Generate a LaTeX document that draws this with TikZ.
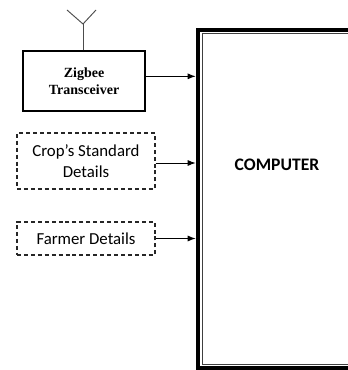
\documentclass[tikz,border=0pt]{standalone}
\usepackage{fontspec}
\setmainfont{Liberation Serif}
\newfontfamily\calibri{Carlito}
\usetikzlibrary{positioning,arrows.meta}

\begin{document}
\begin{tikzpicture}[x=0.75pt,y=-0.75pt,
						solidbox/.style={rectangle, draw=black, line width=1pt, minimum width=91.5pt, minimum height=45pt, align=center, font=\fontsize{10.5}{12.5}\selectfont\bfseries},
						dashbox/.style={rectangle, draw=black!85, line width=0.9pt, dash pattern=on 3pt off 2.2pt, minimum width=103.5pt, align=center, font=\calibri\fontsize{12.6}{15.5}\selectfont},
						mainbox/.style={rectangle, draw=black, line width=3pt, minimum width=121.9pt, minimum height=253.5pt},
						feed/.style={line width=0.75pt, -{Latex[length=6pt,width=4.5pt]}}
					]
					\useasboundingbox (0,0) rectangle (348,370);
					\clip (0,0) rectangle (348,370);
					\node[solidbox] (zigbee) at (84,81) {Zigbee\\Transceiver};
					\node[dashbox, minimum height=42pt] (crop) at (86,161) {Crop’s Standard\\Details};
					\node[dashbox, minimum height=24.75pt] (farmer) at (86,238.5) {Farmer Details};
					\node[mainbox] (computer) at (279,199) {};
					\node[font=\calibri\bfseries\fontsize{13.2}{15}\selectfont] (comptext) at (277,165) {COMPUTER};
					% inner line of the computer frame
					\draw[black!75, line width=0.8pt] ([shift={(4.9pt,-4.1pt)}]computer.north west) rectangle ([shift={(0pt,4.4pt)}]computer.south east);
					% antenna
					\coordinate (tip) at (83,24);
					\draw[black!70, line width=0.7pt] (zigbee.north -| tip) -- (tip);
					\draw[black!70, line width=0.7pt] (67,10) -- (tip) -- (96,10);
					\begin{scope}[feed]
					\draw ([yshift=3.5pt]zigbee.east) -- ([yshift=3.5pt]zigbee.east -| computer.west);
					\draw ([yshift=-1.5pt]crop.east) -- ([yshift=-1.5pt]crop.east -| computer.west);
					\draw (farmer.east) -- (farmer.east -| computer.west);
					\end{scope}
					\end{tikzpicture}
\end{document}
